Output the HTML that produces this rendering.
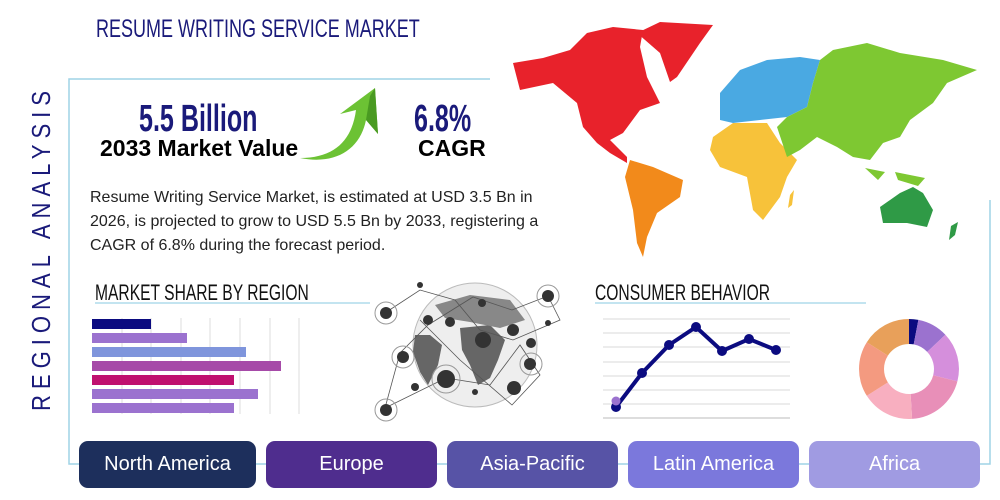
<!DOCTYPE html>
<html><head><meta charset="utf-8"><style>
body{margin:0;width:1000px;height:500px;background:#fff;overflow:hidden;position:relative;font-family:"Liberation Sans",sans-serif}
.a{position:absolute;white-space:nowrap}
.cond{display:inline-block;transform-origin:0 0}
.btn{position:absolute;top:441px;height:47px;border-radius:9px;color:#fff;font-size:20px;text-align:center;line-height:47px}
</style></head><body>
<svg width="1000" height="500" style="position:absolute;left:0;top:0">
<polyline points="490,79 69,79 69,464 990,464 990,200" fill="none" stroke="#9fd3e6" stroke-width="1.5"/>
<path d="M300,158 C335,158 352,140 356,110 L340,114 L375,88 L378,134 L366,120 C360,150 335,165 300,158Z" fill="#6cc234"/>
<path d="M375,88 L378,134 L366,120 L370,96Z" fill="#4a9a22"/>
<path d="M513,63 543,58 570,50 587,33 613,27 643,30 640,47 647,77 660,103 640,110 623,133 610,140 627,157 627,163 610,153 597,143 583,127 577,103 553,83 520,90Z" fill="#e8222b"/>
<path d="M637,33 660,22 713,25 700,43 677,77 670,82 660,53Z" fill="#e8222b"/>
<path d="M630,160 653,167 683,180 680,197 657,213 647,237 643,257 637,243 633,210 625,177Z" fill="#f28a1b"/>
<path d="M720,93 740,70 767,60 800,57 820,60 813,83 807,107 787,117 760,120 733,123 720,120Z" fill="#4aa9e2"/>
<path d="M713,137 733,123 767,123 780,143 797,160 787,177 780,197 763,220 753,210 747,177 720,167 710,150Z" fill="#f7c23a"/>
<path d="M820,60 833,50 867,43 900,53 943,60 977,70 947,83 933,103 910,120 900,137 883,143 870,160 853,157 837,147 817,137 800,150 787,157 777,127 787,117 807,107 813,83Z" fill="#7ec832"/>
<path d="M865,168 885,172 878,180Z M895,172 925,178 918,186 898,180Z" fill="#7ec832"/>
<path d="M880,207 900,193 913,187 923,193 933,210 927,227 907,223 883,223Z" fill="#2f9a46"/>
<path d="M951,226 958,222 955,235 949,240Z" fill="#2f9a46"/>
<path d="M790,195 794,190 792,205 788,208Z" fill="#f7c23a"/>
<circle cx="475" cy="345" r="62" fill="#eee" stroke="#bbb"/>
<path d="M415,335 430,335 442,345 438,365 428,385 420,372 413,352Z" fill="#666"/>
<path d="M460,328 490,325 505,340 498,360 490,378 478,385 470,365 462,350Z" fill="#666"/>
<path d="M435,305 470,295 510,300 525,320 500,328 470,322 445,318Z" fill="#888"/>
<g stroke="#555" stroke-width="0.8" fill="none">
<path d="M388,311 420,290 455,300 480,330 513,340 560,320 548,296 512,310 473,297 428,325 400,353 385,408 446,378 490,385 520,345 540,375 512,405 460,360 420,320"/>
</g>
<g fill="#333">
<circle cx="386" cy="313" r="6"/><circle cx="428" cy="320" r="5"/><circle cx="450" cy="322" r="5"/><circle cx="483" cy="340" r="8"/><circle cx="446" cy="379" r="9"/><circle cx="513" cy="330" r="6"/><circle cx="531" cy="343" r="5"/><circle cx="530" cy="364" r="6"/><circle cx="514" cy="388" r="7"/><circle cx="548" cy="296" r="6"/><circle cx="386" cy="410" r="6"/><circle cx="403" cy="357" r="6"/><circle cx="415" cy="387" r="4"/><circle cx="482" cy="303" r="4"/><circle cx="420" cy="285" r="3"/><circle cx="475" cy="392" r="3"/><circle cx="548" cy="323" r="3"/>
</g>
<g fill="none" stroke="#999"><circle cx="386" cy="313" r="11"/><circle cx="548" cy="296" r="11"/><circle cx="386" cy="410" r="11"/><circle cx="446" cy="379" r="14"/><circle cx="531" cy="364" r="11"/><circle cx="403" cy="357" r="11"/></g>
<line x1="95" y1="303" x2="370" y2="303" stroke="#9fd3e6" stroke-width="1.2"/>
<line x1="595" y1="303" x2="866" y2="303" stroke="#9fd3e6" stroke-width="1.2"/>
<g stroke="#ddd"><line x1="122" y1="318" x2="122" y2="414"/><line x1="151" y1="318" x2="151" y2="414"/><line x1="181" y1="318" x2="181" y2="414"/><line x1="210" y1="318" x2="210" y2="414"/><line x1="240" y1="318" x2="240" y2="414"/><line x1="270" y1="318" x2="270" y2="414"/><line x1="299" y1="318" x2="299" y2="414"/></g>
<rect x="92" y="319" width="59" height="10" fill="#0b0b80"/>
<rect x="92" y="333" width="95" height="10" fill="#9b72cf"/>
<rect x="92" y="347" width="154" height="10" fill="#7f95dc"/>
<rect x="92" y="361" width="189" height="10" fill="#a64aa8"/>
<rect x="92" y="375" width="142" height="10" fill="#c0106f"/>
<rect x="92" y="389" width="166" height="10" fill="#9b72cf"/>
<rect x="92" y="403" width="142" height="10" fill="#9b72cf"/>
<g stroke="#d8d8d8"><line x1="603" y1="319" x2="790" y2="319"/><line x1="603" y1="333" x2="790" y2="333"/><line x1="603" y1="347" x2="790" y2="347"/><line x1="603" y1="362" x2="790" y2="362"/><line x1="603" y1="376" x2="790" y2="376"/><line x1="603" y1="390" x2="790" y2="390"/><line x1="603" y1="404" x2="790" y2="404"/><line x1="603" y1="418" x2="790" y2="418" stroke="#bbb"/></g>
<polyline points="616,407 642,373 669,345 696,327 722,351 749,339 776,350" fill="none" stroke="#0b0b80" stroke-width="4"/>
<g fill="#0b0b80"><circle cx="616" cy="407" r="5"/><circle cx="642" cy="373" r="5"/><circle cx="669" cy="345" r="5"/><circle cx="696" cy="327" r="5"/><circle cx="722" cy="351" r="5"/><circle cx="749" cy="339" r="5"/><circle cx="776" cy="350" r="5"/></g>
<circle cx="616" cy="401" r="4.5" fill="#9b72cf"/>
</svg>
<svg width="1000" height="500" style="position:absolute;left:0;top:0" id="dn"></svg>
<script>
(function(){var s=document.getElementById('dn'),cx=909,cy=369,R=50,r=25,a=0;
var seg=[[3,'#0b0b80'],[10,'#9b72cf'],[16,'#d58fdc'],[20,'#e88fb8'],[17,'#f8afc0'],[18,'#f49a80'],[16,'#e8a05a']];
var h='';seg.forEach(function(g){var b=a+g[0]/100*2*Math.PI;function p(rr,t){return (cx+rr*Math.sin(t)).toFixed(1)+','+(cy-rr*Math.cos(t)).toFixed(1)}
var L=(b-a)>Math.PI?1:0;h+='<path fill="'+g[1]+'" d="M'+p(R,a)+' A'+R+','+R+' 0 '+L+' 1 '+p(R,b)+' L'+p(r,b)+' A'+r+','+r+' 0 '+L+' 0 '+p(r,a)+'Z"/>';a=b;});s.innerHTML=h;})();
</script>
<div class="a" style="left:96px;top:15px;color:#1a1a7a;font-size:25px"><span class="cond" style="transform:scaleX(0.72)">RESUME WRITING SERVICE MARKET</span></div>
<div class="a" style="left:26px;top:411px;color:#1a1a7a;font-size:26px;letter-spacing:7px;transform:rotate(-90deg);transform-origin:0 0"><span class="cond" style="transform:scaleX(0.85)">REGIONAL ANALYSIS</span></div>
<div class="a" style="left:139px;top:98px;color:#1a1a7a;font-size:38px;font-weight:bold"><span class="cond" style="transform:scaleX(0.66)">5.5 Billion</span></div>
<div class="a" style="left:100px;top:135px;color:#000;font-size:23px;font-weight:bold">2033 Market Value</div>
<div class="a" style="left:414px;top:98px;color:#1a1a7a;font-size:38px;font-weight:bold"><span class="cond" style="transform:scaleX(0.66)">6.8%</span></div>
<div class="a" style="left:418px;top:135px;color:#000;font-size:23px;font-weight:bold">CAGR</div>
<div class="a" style="left:90px;top:186px;color:#222;font-size:16px;line-height:24px;white-space:normal;width:480px">Resume Writing Service Market, is estimated at USD 3.5 Bn in 2026, is projected to grow to USD 5.5 Bn by 2033, registering a CAGR of 6.8% during the forecast period.</div>
<div class="a" style="left:95px;top:280px;color:#111;font-size:22px"><span class="cond" style="transform:scaleX(0.71)">MARKET SHARE BY REGION</span></div>
<div class="a" style="left:595px;top:280px;color:#111;font-size:22px"><span class="cond" style="transform:scaleX(0.71)">CONSUMER BEHAVIOR</span></div>
<div class="btn" style="left:79px;width:177px;background:#1d2f5c">North America</div>
<div class="btn" style="left:266px;width:171px;background:#4f2d8e">Europe</div>
<div class="btn" style="left:447px;width:171px;background:#5753a6">Asia-Pacific</div>
<div class="btn" style="left:628px;width:171px;background:#7b78dc">Latin America</div>
<div class="btn" style="left:809px;width:171px;background:#a09be2">Africa</div>
</body></html>
